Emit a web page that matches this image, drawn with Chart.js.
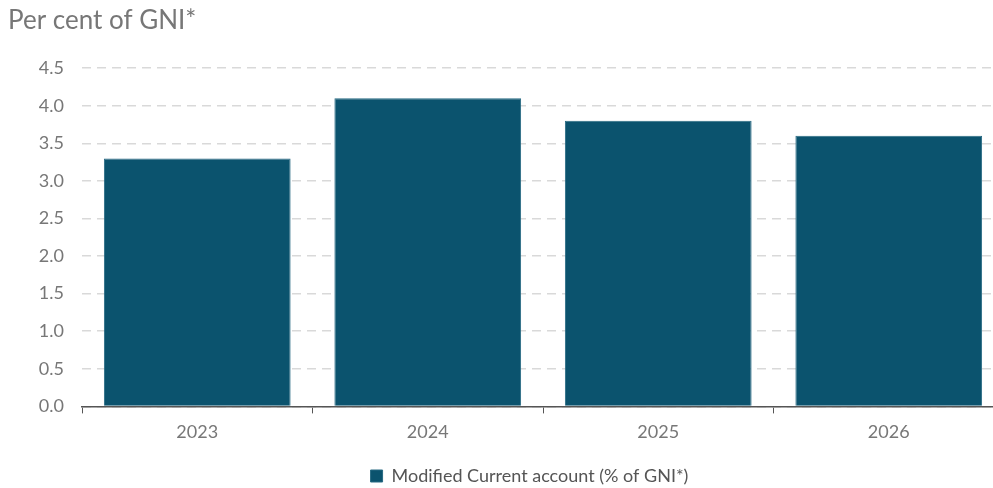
<!DOCTYPE html>
<html><head><meta charset="utf-8">
<script src="https://cdn.jsdelivr.net/npm/chart.js@4/dist/chart.umd.min.js"></script>
<style>html,body{margin:0;padding:0;background:#fff;overflow:hidden}#wrap{width:1004px;height:488px}</style>
</head><body><div id="wrap"><canvas id="c"></canvas></div>
<script>
const categories = ['2023', '2024', '2025', '2026'];
const values = [3.3, 4.1, 3.8, 3.6];
const seriesName = 'Modified Current account (% of GNI*)';
const yTicks = [0, 0.5, 1, 1.5, 2, 2.5, 3, 3.5, 4, 4.5];

const legendShift = {
  id: 'legendShift',
  afterLayout(chart) {
    const l = chart.legend; if (!l) return;
    const dx = 23.5, dy = 6;
    l.left += dx; l.right += dx; l.top += dy; l.bottom += dy;
    if (l.legendHitBoxes) l.legendHitBoxes.forEach(h => { h.left += dx; h.top += dy; });
  }
};

Chart.defaults.font.family = 'Lato, "Open Sans", sans-serif';
Chart.defaults.color = '#777';
new Chart(document.getElementById('c'), {
  type: 'bar',
  data: { labels: categories, datasets: [{ label: seriesName, data: values, backgroundColor: '#0b536e', borderColor: '#286a83', borderWidth: 1, barPercentage: 0.81, categoryPercentage: 1 }] },
  plugins: [legendShift],
  options: {
    responsive: true, maintainAspectRatio: false, animation: false,
    layout: { padding: { left: 8, right: 0, top: 0, bottom: -1 } },
    plugins: {
      title: { display: true, text: 'Per cent of GNI*', align: 'start', color: '#777', font: { size: 26, weight: 'normal' }, padding: { top: 5, bottom: 32 } },
      legend: { position: 'bottom', labels: { boxWidth: 12, boxHeight: 12, color: '#555', font: { size: 18 }, padding: 10 } },
      tooltip: { enabled: false }
    },
    scales: {
      x: { grid: { display: true, drawOnChartArea: false, drawTicks: true, tickLength: 7, color: '#555' }, border: { color: '#555', width: 1.5 }, ticks: { color: '#777', font: { size: 18 }, padding: 8 } },
      y: { min: 0, max: 4.5, afterBuildTicks: s => { s.ticks = yTicks.map(v => ({ value: v })); },
        afterFit: s => { s.width = 74; },
        grid: { color: '#d9d9d9', lineWidth: 1.5, drawTicks: false }, border: { display: false, dash: [9, 6] },
        ticks: { color: '#777', font: { size: 18 }, padding: 18, callback: v => Number(v).toFixed(1) } }
    }
  }
});
</script></body></html>
